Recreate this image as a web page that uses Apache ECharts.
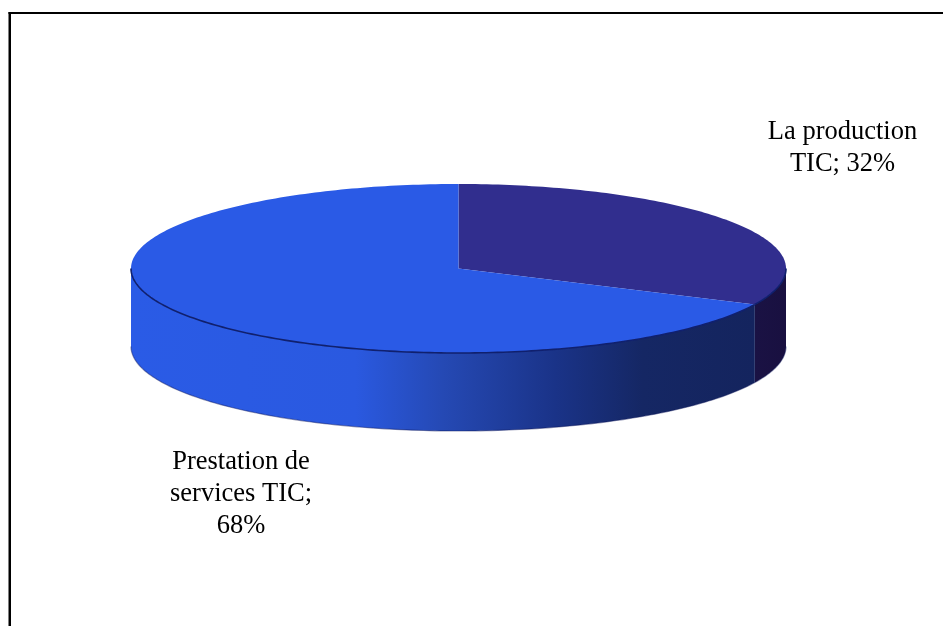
<!DOCTYPE html>
<html>
<head>
<meta charset="utf-8">
<style>html,body{margin:0;padding:0;background:#fff}#chart{width:943px;height:626px}</style>
<script src="https://cdn.jsdelivr.net/npm/echarts@6/dist/echarts.min.js"></script>
</head>
<body>
<div id="chart"></div>
<script>
// Share of the ICT sector by activity
const categories = ['La production TIC', 'Prestation de services TIC'];
const shares = [32, 68];
const labelPrefixes = ['La production\nTIC; ', 'Prestation de\nservices TIC;\n'];
const topColors = ['#312e8e', '#2a5ae6'];
const labelAnchors = [[842.5, 148.5], [241, 494.5]];

// Disc geometry: an ellipse for the top face plus a rim drawn below it
const disc = { cx: 458.5, cy: 268.5, rx: 327.5, ry: 84.5, depth: 78 };
const total = shares.reduce((a, b) => a + b, 0);

function rimPoint(turn, dy) {
  const a = turn * 2 * Math.PI;
  return [disc.cx + disc.rx * Math.sin(a), disc.cy - disc.ry * Math.cos(a) + (dy || 0)];
}
function arc(from, to, dy) {
  const n = Math.max(2, Math.ceil(Math.abs(to - from) * 360));
  const pts = [];
  for (let i = 0; i <= n; i++) pts.push(rimPoint(from + (to - from) * i / n, dy));
  return pts;
}
const rimGradientA = { type: 'linear', x: 0, y: 0, x2: 1, y2: 0, colorStops: [
  { offset: 0, color: '#1a1244' }, { offset: 1, color: '#191040' }
] };
// Lighting on the front of the rim, running left to right across the whole disc
const rimGradientB = { type: 'linear', x: 0, y: 0, x2: 1, y2: 0, colorStops: [
  { offset: 0, color: '#2a5be6' },
  { offset: 0.36, color: '#2a59e0' },
  { offset: 0.5, color: '#2549b4' },
  { offset: 0.68, color: '#1a3388' },
  { offset: 0.82, color: '#152764' },
  { offset: 1, color: '#14245e' }
] };

function renderSlice(params, api) {
  const i = params.dataIndex;
  const before = shares.slice(0, i).reduce((a, b) => a + b, 0);
  const from = before / total;
  const to = from + api.value(1) / total;
  const children = [];

  // Visible rim: only the part of the slice on the front half of the ellipse
  const rimFrom = Math.max(from, 0.25);
  const rimTo = Math.min(to, 0.75);
  if (rimTo > rimFrom) {
    const pts = arc(rimFrom, rimTo, 0).concat(arc(rimTo, rimFrom, disc.depth));
    children.push({
      type: 'polygon',
      shape: { points: pts },
      style: { fill: i === 0 ? rimGradientA : rimGradientB, stroke: null }
    });
    // Soft dark line along the bottom of the rim
    children.push({
      type: 'polyline',
      shape: { points: arc(rimFrom, rimTo, disc.depth) },
      style: { fill: null, stroke: 'rgba(16,24,90,0.45)', lineWidth: 1.2 }
    });
  }
  // Top face
  children.push({
    type: 'polygon',
    shape: { points: [[disc.cx, disc.cy]].concat(arc(from, to, 0)) },
    style: { fill: topColors[i], stroke: null }
  });
  // Dark edge along the front of the top face
  if (rimTo > rimFrom) {
    children.push({
      type: 'polyline',
      shape: { points: arc(rimFrom, rimTo, 0) },
      style: { fill: null, stroke: '#10206e', lineWidth: 1.6 }
    });
  }
  children.push({
    type: 'text',
    style: {
      x: labelAnchors[i][0], y: labelAnchors[i][1],
      text: labelPrefixes[i] + api.value(1) + '%',
      font: '26.5px "Liberation Serif"',
      lineHeight: 32,
      fill: '#000',
      align: 'center',
      verticalAlign: 'middle'
    }
  });
  return { type: 'group', children };
}

const chart = echarts.init(document.getElementById('chart'), null, { renderer: 'canvas' });
chart.setOption({
  animation: false,
  backgroundColor: '#fff',
  xAxis: { show: false, type: 'category', data: categories },
  yAxis: { show: false, type: 'value' },
  graphic: [
    { type: 'line', silent: true, shape: { x1: 9.75, y1: 12, x2: 9.75, y2: 626 },
      style: { stroke: '#000', lineWidth: 2.5 } },
    { type: 'line', silent: true, shape: { x1: 8.5, y1: 13, x2: 943, y2: 13 },
      style: { stroke: '#000', lineWidth: 2 } }
  ],
  series: [{
    type: 'custom',
    renderItem: renderSlice,
    data: categories.map((c, i) => [c, shares[i]]),
    encode: { x: 0, y: 1 },
    clip: false
  }]
});
</script>
</body>
</html>
